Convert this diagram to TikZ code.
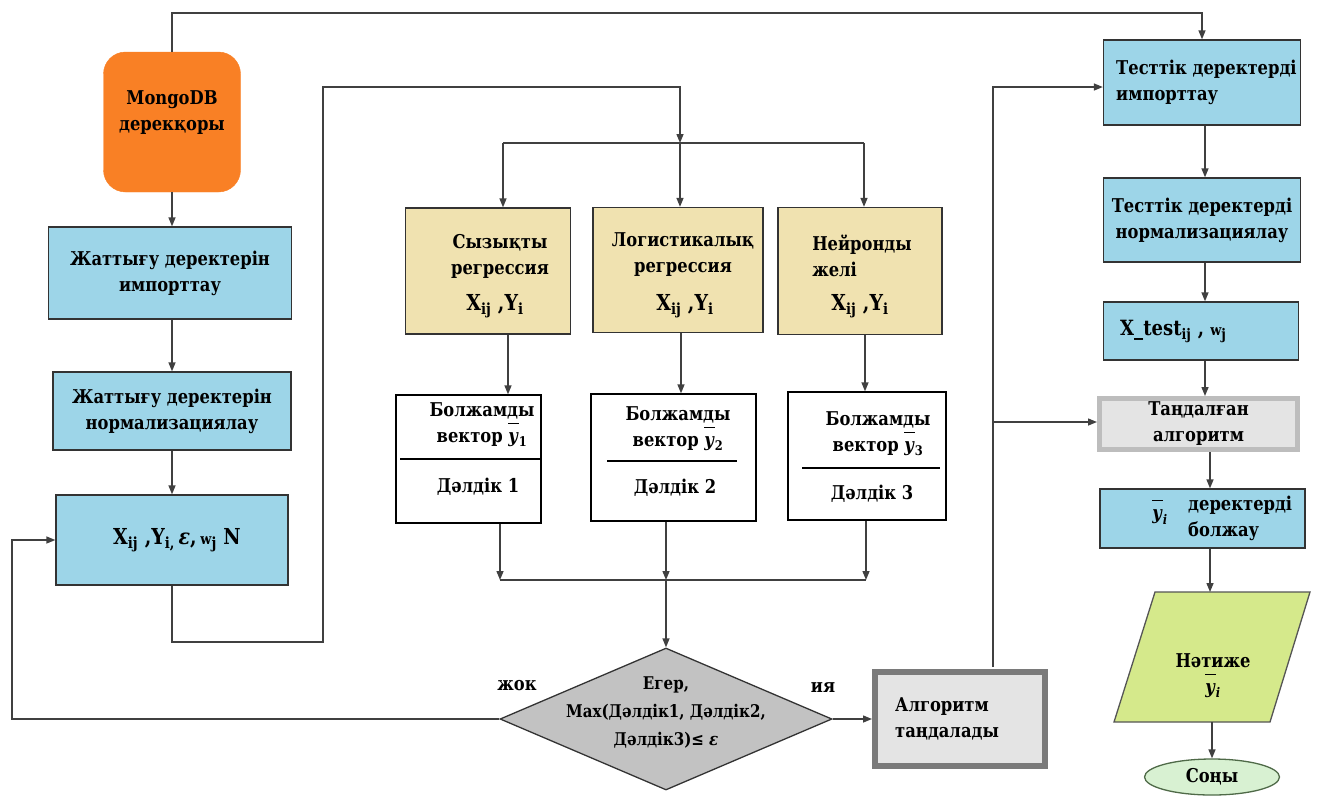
\documentclass[tikz,border=0pt]{standalone}
\usepackage{fontspec}
\setmainfont{DejaVu Serif}[FakeStretch=0.86]
\usetikzlibrary{arrows.meta,shapes.geometric}

\definecolor{mongoorange}{HTML}{F98025}
\definecolor{boxblue}{HTML}{9DD5E8}
\definecolor{modeltan}{HTML}{F0E2B0}
\definecolor{decgray}{HTML}{C2C2C2}
\definecolor{alggray}{HTML}{7A7A7A}
\definecolor{algfill}{HTML}{E4E4E4}
\definecolor{selgray}{HTML}{BDBDBD}
\definecolor{outgreen}{HTML}{D5E98B}
\definecolor{outedge}{HTML}{555555}
\definecolor{finfill}{HTML}{D8F1D2}
\definecolor{finedge}{HTML}{4F6A48}
\definecolor{edge}{HTML}{333333}
\definecolor{wire}{HTML}{404040}

% bold y with a raised bar
\newcommand{\ybarsym}{\ensuremath{\overline{\rule{0pt}{0.95em}\textbf{\textit{y}}}}}
% small w used in the weight symbol
\newcommand{\smallw}{{\fontsize{15}{15}\selectfont w}}

\tikzset{
  txt/.style={font=\bfseries\fontsize{19}{26}\selectfont, align=center, inner sep=0pt},
  bigtxt/.style={txt, font=\bfseries\fontsize{22}{30}\selectfont},
  bluebox/.style={txt, draw=edge, line width=1.3pt, fill=boxblue},
  modelbox/.style={draw=edge, line width=1.3pt, fill=modeltan, inner sep=0pt},
  resbox/.style={draw=black, line width=1.3pt, fill=white, inner sep=0pt},
  ln/.style={draw=wire, line width=1.4pt},
  arr/.style={draw=wire, line width=1.4pt, -{Triangle[length=9pt,width=7pt]}},
}

\begin{document}
\begin{tikzpicture}[x=1pt,y=-1pt]
\useasboundingbox (0,0) rectangle (1329,796);

% ---- left column: training data ----
\node[txt, rounded corners=22pt, fill=mongoorange, draw=mongoorange, minimum width=137pt, minimum height=140pt] (mongo) at (172,122) {};
\node[txt] at (172,113) {MongoDB\\дерекқоры};
\node[bluebox, minimum width=243pt, minimum height=92pt] (tr1) at (170,273) {Жаттығу деректерін\\импорттау};
\node[bluebox, minimum width=238pt, minimum height=78pt] (tr2) at (172,411) {Жаттығу деректерін\\нормализациялау};
\node[bluebox, minimum width=232pt, minimum height=90pt] (tr3) at (172,540) {};
\node[bigtxt] at (177,540) {X\textsubscript{ij} ,Y\textsubscript{i,}\,\textit{ε},\,\smallw\textsubscript{j} N};

% ---- models ----
\node[modelbox, minimum width=165pt, minimum height=126pt] (mA) at (488,271) {};
\node[modelbox, minimum width=170pt, minimum height=125pt] (mB) at (678,270) {};
\node[modelbox, minimum width=164pt, minimum height=127pt] (mC) at (860,271) {};
\node[txt] at (500,256) {Сызықты\\регрессия};
\node[txt] at (683,255) {Логистикалық\\регрессия};
\node[txt, align=left] at (862,256) {Нейронды\\желі\hspace*{45pt}};
\node[bigtxt] at (495,306) {X\textsubscript{ij} ,Y\textsubscript{i}};
\node[bigtxt] at (685,306) {X\textsubscript{ij} ,Y\textsubscript{i}};
\node[bigtxt] at (860,306) {X\textsubscript{ij} ,Y\textsubscript{i}};

% ---- predictions and accuracy ----
\node[resbox, minimum width=145pt, minimum height=128pt] (rA) at (468.5,459) {};
\node[resbox, minimum width=165pt, minimum height=127pt] (rB) at (673.5,457.5) {};
\node[resbox, minimum width=158pt, minimum height=128pt] (rC) at (867,456) {};
\node[txt] at (482,425) {Болжамды\\вектор \ybarsym\textsubscript{1}};
\node[txt] at (478,487) {Дәлдік 1};
\node[txt] at (678,429) {Болжамды\\вектор \ybarsym\textsubscript{2}};
\node[txt] at (675,488) {Дәлдік 2};
\node[txt] at (878,434) {Болжамды\\вектор \ybarsym\textsubscript{3}};
\node[txt] at (872,494) {Дәлдік 3};
\draw[black, line width=1.3pt] (400,459) -- (540,459);
\draw[black, line width=1.3pt] (607,461) -- (737,461);
\draw[black, line width=1.3pt] (802,468) -- (940,468);

% ---- decision ----
\node[diamond, draw=edge, fill=decgray, line width=1.3pt, minimum width=332pt, minimum height=142pt, inner sep=0pt] (dec) at (666,719) {};
\node[txt, font=\bfseries\fontsize{17.5}{28}\selectfont] at (666,712) {Егер,\\Max(Дәлдік1, Дәлдік2,\\Дәлдік3)≤ \textit{ε}};
\node[txt] (no) at (517,686) {жок};
\node[txt] (yes) at (823,688) {ия};
\node[draw=alggray, line width=6pt, fill=algfill, minimum width=170pt, minimum height=94pt] (alg) at (960,719) {};
\node[txt, align=left, anchor=west] at (895,719) {Алгоритм\\таңдалады};

% ---- right column: test data ----
\node[bluebox, minimum width=197pt, minimum height=85pt] (ti) at (1202,82.5) {};
\node[txt, align=left, anchor=west] at (1116,82) {Тесттік деректерді\\импорттау};
\node[bluebox, minimum width=197pt, minimum height=84pt] (tn) at (1202,220) {Тесттік деректерді\\нормализациялау};
\node[bluebox, minimum width=195pt, minimum height=58pt] (xt) at (1201,331) {};
\node[bigtxt, font=\bfseries\fontsize{21}{26}\selectfont, anchor=west] at (1120,331) {X\_test\textsubscript{ij} , \smallw\textsubscript{j}};
\node[txt, draw=selgray, line width=5pt, fill=algfill, minimum width=198pt, minimum height=51pt] (sel) at (1198.5,424) {Таңдалған\\алгоритм};
\node[bluebox, minimum width=205pt, minimum height=59pt] (pr) at (1202.5,518.5) {};
\node[txt] at (1160,512) {\ybarsym\textsubscript{\textit{i}}};
\node[txt, align=left, anchor=west] at (1188,518) {деректерді\\болжау};
\coordinate (p1) at (1155,592);
\coordinate (p2) at (1310,592);
\coordinate (p3) at (1270,722);
\coordinate (p4) at (1114,722);
\filldraw[fill=outgreen, draw=outedge, line width=1.3pt] (p1) -- (p2) -- (p3) -- (p4) -- cycle;
\node[txt] (out) at (1213,676) {Нәтиже\\\ybarsym\textsubscript{\textit{i}}};
\node[txt, ellipse, draw=finedge, fill=finfill, line width=1.3pt, minimum width=135pt, minimum height=36pt] (fin) at (1212,777) {Соңы};

% ---- connectors ----
\coordinate (t0) at (172,13);
\draw[arr] (mongo.north) -- (t0) -- (t0 -| ti.north) -- (ti.north);
\draw[arr] (mongo.south) -- (tr1.north -| mongo.south);
\draw[arr] (tr1.south -| tr2.north) -- (tr2.north);
\draw[arr] (tr2.south) -- (tr3.north);

\coordinate (l1) at (323,642);
\coordinate (l2) at (323,87);
\coordinate (l3) at (680,87);
\coordinate (bB) at (680,143);
\coordinate (bA) at (503,143);
\coordinate (bC) at (864,143);
\draw[arr] (tr3.south) |- (l1) -- (l2) -- (l3) -- (bB);
\draw[ln] (bA) -- (bC);
\draw[arr] (bA) -- (bA |- mA.north);
\draw[arr] (bB) -- (bB |- mB.north);
\draw[arr] (bC) -- (bC |- mC.north);

\coordinate (dA) at (508,0);
\coordinate (dB) at (681,0);
\coordinate (dC) at (865,0);
\draw[arr] (mA.south -| dA) -- (rA.north -| dA);
\draw[arr] (mB.south -| dB) -- (rB.north -| dB);
\draw[arr] (mC.south -| dC) -- (rC.north -| dC);

\coordinate (jA) at (500,580);
\coordinate (jB) at (666,580);
\coordinate (jC) at (866,580);
\draw[arr] (rA.south -| jA) -- (jA);
\draw[arr] (rB.south -| jB) -- (jB);
\draw[arr] (rC.south -| jC) -- (jC);
\draw[ln] (jA) -- (jC);
\draw[arr] (jB) -- (dec.north);

\coordinate (r1) at (12,0);
\draw[arr] (dec.west) -- (dec.west -| r1) |- (tr3.west);
\draw[arr] (dec.east) -- (alg.west);

\coordinate (a0) at (993,667);
\coordinate (a1) at (993,87);
\coordinate (a2) at (993,422);
\draw[arr] (a0) -- (a1) -- (a1 -| ti.west);
\draw[arr] (a2) -- (a2 -| sel.west);

\coordinate (cx) at (1205,0);
\coordinate (cy) at (1210,0);
\draw[arr] (ti.south -| cx) -- (tn.north -| cx);
\draw[arr] (tn.south -| cx) -- (xt.north -| cx);
\draw[arr] (xt.south -| cx) -- (sel.north -| cx);
\draw[arr] (sel.south -| cy) -- (pr.north -| cy);
\draw[arr] (pr.south -| cy) -- (p1 -| cy);
\draw[arr] (p3 -| fin.north) -- (fin.north);
\end{tikzpicture}
\end{document}
